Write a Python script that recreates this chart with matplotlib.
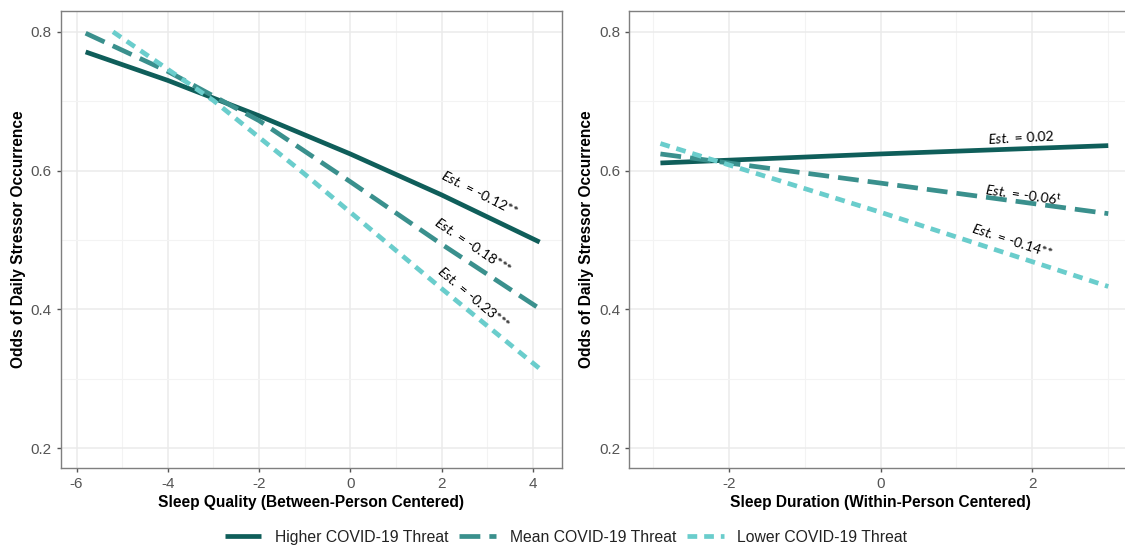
import numpy as np
import matplotlib
matplotlib.use("Agg")
import matplotlib.pyplot as plt
from matplotlib.ticker import MultipleLocator

# --- data ------------------------------------------------------------------
QUAL_X_HIGH = [-5.8, -4.0, -2.0, 0.0, 2.0, 4.15]
QUAL_Y_HIGH = [0.771, 0.730, 0.679, 0.624, 0.565, 0.497]
QUAL_X_MEAN = [-5.8, -4.0, -2.0, 0.0, 2.0, 4.15]
QUAL_Y_MEAN = [0.798, 0.743, 0.672, 0.584, 0.494, 0.401]
QUAL_X_LOW = [-5.2, -3.0, -1.0, 0.0, 2.0, 4.2]
QUAL_Y_LOW = [0.800, 0.701, 0.595, 0.540, 0.430, 0.312]

DUR_X = [-2.9, 0.0, 3.0]
DUR_Y_HIGH = [0.611, 0.624, 0.636]
DUR_Y_MEAN = [0.624, 0.582, 0.538]
DUR_Y_LOW = [0.639, 0.540, 0.433]

SERIES = ["Higher COVID-19 Threat", "Mean COVID-19 Threat", "Lower COVID-19 Threat"]
QUAL_EST = ["-0.12**", "-0.18***", "-0.23***"]
DUR_EST = ["0.02", r"-0.06$^{\mathrm{t}}$", "-0.14**"]

COLORS = ["#0f5e5a", "#3a908d", "#6acdcc"]
DASHES = [None, (15, 6.5), (7, 5)]

plt.rcParams["font.family"] = ["Liberation Sans", "DejaVu Sans"]
plt.rcParams["axes.unicode_minus"] = False
plt.rcParams["lines.scale_dashes"] = False
plt.rcParams["mathtext.fontset"] = "custom"
plt.rcParams["mathtext.rm"] = "Lato"
plt.rcParams["mathtext.it"] = "Lato:italic"

W, H = 1125, 546
fig = plt.figure(figsize=(W / 100, H / 100), dpi=100)
bot, top = (H - 468.3) / H, (H - 11) / H
ax1 = fig.add_axes([61 / W, bot, (562 - 61) / W, top - bot])
ax2 = fig.add_axes([629.3 / W, bot, (1131.8 - 629.3) / W, top - bot])


def style(ax, xlim, xlabel):
    ax.set_xlim(*xlim)
    ax.set_ylim(0.171, 0.83)
    ax.xaxis.set_major_locator(MultipleLocator(2))
    ax.xaxis.set_minor_locator(MultipleLocator(1))
    ax.yaxis.set_major_locator(MultipleLocator(0.2))
    ax.yaxis.set_minor_locator(MultipleLocator(0.1))
    ax.yaxis.set_major_formatter(plt.FuncFormatter(lambda v, p: f"{v:.1f}"))
    ax.grid(which="major", color="#ebebeb", lw=1.1, zorder=0)
    ax.grid(which="minor", color="#f3f3f3", lw=0.8, zorder=0)
    ax.set_axisbelow(True)
    ax.tick_params(which="major", length=3, width=1, color="#555555",
                   labelcolor="#555555", labelsize=11, pad=3.5)
    ax.tick_params(which="minor", length=0)
    for sp in ax.spines.values():
        sp.set_color("#7f7f7f")
        sp.set_linewidth(1.0)
    ax.set_xlabel(xlabel, fontsize=11.2, fontweight="bold", labelpad=3)
    ax.set_ylabel("Odds of Daily Stressor Occurrence", fontsize=11.2,
                  fontweight="bold", labelpad=3.5)


def draw(ax, xs, ys):
    for x, y, c, d, name in zip(xs, ys, COLORS, DASHES, SERIES):
        ln, = ax.plot(x, y, color=c, lw=3.4, label=name, solid_capstyle="butt",
                      dash_capstyle="butt", zorder=3)
        if d is not None:
            ln.set_dashes(d)


draw(ax1, [QUAL_X_HIGH, QUAL_X_MEAN, QUAL_X_LOW],
     [QUAL_Y_HIGH, QUAL_Y_MEAN, QUAL_Y_LOW])
style(ax1, (-6.34, 4.64), "Sleep Quality (Between-Person Centered)")

draw(ax2, [DUR_X] * 3, [DUR_Y_HIGH, DUR_Y_MEAN, DUR_Y_LOW])
style(ax2, (-3.31, 3.31), "Sleep Duration (Within-Person Centered)")

# estimate labels
for (x, y, rot), est in zip([(2.83, 0.568, -27), (2.70, 0.492, -34), (2.70, 0.417, -40)],
                            QUAL_EST):
    ax1.text(x, y, r"$\mathit{Est.}$ = " + est, rotation=rot, rotation_mode="anchor",
             ha="center", va="center", fontsize=10, family="Lato", color="black")
for (x, y, rot), est in zip([(1.85, 0.648, 3), (1.88, 0.565, -8), (1.73, 0.499, -18)],
                            DUR_EST):
    ax2.text(x, y, r"$\mathit{Est.}$ = " + est, rotation=rot, rotation_mode="anchor",
             ha="center", va="center", fontsize=10, family="Lato", color="black")

handles, labels = ax1.get_legend_handles_labels()
fig.legend(handles, labels, loc="center", bbox_to_anchor=(0.503, 0.016), ncol=3,
           frameon=False, fontsize=11.3, handlelength=2.35, columnspacing=0.7,
           handletextpad=0.85, labelcolor="#222222")

fig.savefig("out.png", dpi=100)
